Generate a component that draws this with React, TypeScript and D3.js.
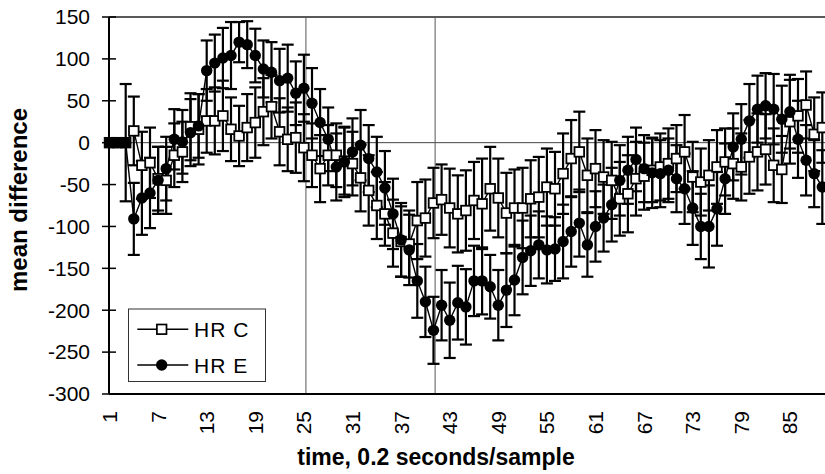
import React from "react";
import * as d3 from "d3";

// category numbers 1..89 (visible part of the chart)
const categories: number[] = d3.range(1, 90);

const hrC: number[] = [
  0, 0, 0, 14, -27, -24, -43, -45, -15, -11,
  19, 16, 26, 26, 32, 16, 8, 18, 24, 37,
  43, 13, 4, 6, -6, -15, -31, -15, -15, -22,
  -25, -42, -57, -75, -85, -108, -118, -121, -93, -90,
  -72, -68, -78, -85, -81, -69, -73, -55, -66, -84,
  -78, -78, -67, -65, -53, -55, -37, -19, -11, -39,
  -31, -41, -45, -67, -61, -43, -40, -33, -29, -25,
  -19, -11, -41, -47, -39, -29, -23, -25, -29, -17,
  -11, -8, -27, -32, 25, 32, 45, 10, 18,
];

const hrE: number[] = [
  0, 0, 0, -91, -66, -60, -45, -31, 4, 1,
  12, 20, 86, 95, 101, 104, 120, 117, 104, 88,
  84, 74, 77, 59, 65, 47, 24, 4, -29, -23,
  -11, -3, -19, -35, -54, -85, -116, -128, -165, -190,
  -224, -194, -212, -191, -196, -165, -165, -172, -194, -176,
  -164, -137, -129, -122, -128, -127, -118, -106, -96, -122,
  -100, -90, -74, -45, -33, -20, -31, -36, -37, -33,
  -43, -55, -78, -100, -100, -79, -43, -5, 4, 26,
  40, 44, 40, 28, 37, 4, -21, -37, -53,
];

const errC: number[] = [
  0, 0, 0, 41, 40, 42, 38, 40, 38, 36,
  40, 42, 38, 40, 42, 38, 36, 40, 42, 40,
  38, 40, 38, 42, 40, 38, 40, 36, 38, 40,
  38, 40, 42, 40, 38, 40, 42, 40, 46, 46,
  42, 42, 47, 46, 48, 46, 54, 50, 47, 48,
  46, 48, 46, 48, 46, 44, 48, 46, 48, 44,
  46, 44, 46, 44, 46, 44, 40, 38, 40, 42,
  40, 44, 42, 40, 42, 44, 40, 42, 40, 44,
  46, 42, 44, 40, 50, 44, 40, 44, 42,
];

const errE: number[] = [
  0, 0, 70, 43, 44, 42, 40, 38, 36, 38,
  40, 38, 36, 34, 36, 40, 24, 28, 32, 34,
  36, 38, 40, 38, 40, 42, 40, 38, 40, 42,
  40, 42, 40, 42, 44, 42, 44, 42, 44, 42,
  40, 42, 45, 44, 45, 42, 40, 38, 42, 44,
  42, 44, 42, 40, 40, 38, 44, 42, 40, 38,
  42, 40, 44, 42, 40, 38, 40, 42, 40, 38,
  40, 42, 44, 39, 49, 44, 42, 40, 42, 44,
  40, 39, 42, 40, 44, 46, 42, 40, 44,
];

const xTicks: number[] = [1, 7, 13, 19, 25, 31, 37, 43, 49, 55, 61, 67, 73, 79, 85];
const yTicks: number[] = [-300, -250, -200, -150, -100, -50, 0, 50, 100, 150];
const eventLines: number[] = [25.25, 41.2];
const seriesNames: string[] = ["HR C", "HR E"];

const FONT = "'Liberation Sans', Arial, Helvetica, sans-serif";

export default function App() {
  const W = 825;
  const H = 474;
  const left = 109;
  const top = 17;
  const bottom = 394;
  const right = 825;

  const x = d3.scaleLinear().domain([1, 89]).range([109.5, 109.5 + 88 * 8.1]);
  const y = d3.scaleLinear().domain([-300, 150]).range([bottom, top]);

  const line = d3
    .line<number>()
    .x((_, i) => x(categories[i]))
    .y((d) => y(d));

  const cap = 6;
  const sq = 9.6;

  const errBars = (vals: number[], errs: number[], key: string) =>
    vals.map((v, i) => {
      const e = errs[i];
      if (!e) return null;
      const cx = x(categories[i]);
      const y1 = y(v + e);
      const y2 = y(v - e);
      return (
        <g key={key + i} stroke="#000" strokeWidth={2.2}>
          <line x1={cx} x2={cx} y1={y1} y2={y2} />
          <line x1={cx - cap} x2={cx + cap} y1={y1} y2={y1} />
          <line x1={cx - cap} x2={cx + cap} y1={y2} y2={y2} />
        </g>
      );
    });

  return (
    <svg
      width={W}
      height={H}
      style={{ position: "absolute", left: 0, top: 0, background: "#fff" }}
      fontFamily={FONT}
    >
      <rect x={0} y={0} width={W} height={H} fill="#fff" />
      <defs>
        <clipPath id="plotClip">
          <rect x={left - 8} y={0} width={right - left + 8} height={bottom + 6} />
        </clipPath>
      </defs>

      {/* plot frame top */}
      <line x1={left} x2={right} y1={top} y2={top} stroke="#222" strokeWidth={1.5} />
      {/* zero line */}
      <line x1={left} x2={right} y1={y(0)} y2={y(0)} stroke="#444" strokeWidth={1} />
      {/* event lines */}
      {eventLines.map((c, i) => (
        <line key={"ev" + i} x1={x(c)} x2={x(c)} y1={top} y2={bottom} stroke="#555" strokeWidth={1} />
      ))}

      <g clipPath="url(#plotClip)">
        {errBars(hrC, errC, "ec")}
        {errBars(hrE, errE, "ee")}
        <path d={line(hrC) || ""} fill="none" stroke="#000" strokeWidth={1.4} />
        <path d={line(hrE) || ""} fill="none" stroke="#000" strokeWidth={1.4} />
        {hrC.map((v, i) => (
          <rect
            key={"mc" + i}
            x={x(categories[i]) - sq / 2}
            y={y(v) - sq / 2}
            width={sq}
            height={sq}
            fill="#fff"
            stroke="#000"
            strokeWidth={1.8}
          />
        ))}
        {hrE.map((v, i) => (
          <circle key={"me" + i} cx={x(categories[i])} cy={y(v)} r={5.7} fill="#000" />
        ))}
      </g>

      {/* axes */}
      <line x1={left} x2={left} y1={top} y2={bottom} stroke="#000" strokeWidth={2} />
      <line x1={left} x2={right} y1={bottom} y2={bottom} stroke="#000" strokeWidth={2} />
      {yTicks.map((t) => (
        <g key={"yt" + t}>
          <line x1={left - 7} x2={left + 7} y1={y(t)} y2={y(t)} stroke="#000" strokeWidth={1.5} />
          <text x={90} y={y(t)} dy="0.35em" textAnchor="end" fontSize={21} fill="#000">
            {t}
          </text>
        </g>
      ))}
      {xTicks.map((t) => (
        <text
          key={"xt" + t}
          transform={`translate(${x(t)},${411}) rotate(-90)`}
          dy="0.36em"
          textAnchor="end"
          fontSize={21}
          fill="#000"
        >
          {t}
        </text>
      ))}

      {/* axis titles */}
      <text x={436} y={465} textAnchor="middle" fontSize={23} fontWeight="bold" fill="#000">
        time, 0.2 seconds/sample
      </text>
      <text
        transform={`translate(27,200) rotate(-90)`}
        textAnchor="middle"
        fontSize={24}
        fontWeight="bold"
        fill="#000"
      >
        mean difference
      </text>

      {/* legend */}
      <g>
        <rect x={128.5} y={309} width={137} height={72.5} fill="#fff" stroke="#333" strokeWidth={1} />
        {seriesNames.map((name, i) => {
          const ly = 329.3 + i * 35.7;
          return (
            <g key={"lg" + i}>
              <line x1={137.3} x2={188.3} y1={ly} y2={ly} stroke="#000" strokeWidth={1.5} />
              {i === 0 ? (
                <rect x={161.7 - sq / 2} y={ly - sq / 2} width={sq} height={sq} fill="#fff" stroke="#000" strokeWidth={1.7} />
              ) : (
                <circle cx={161.7} cy={ly} r={5.7} fill="#000" />
              )}
              <text x={194} y={ly} dy="0.36em" fontSize={21} letterSpacing={1} fill="#000">
                {name}
              </text>
            </g>
          );
        })}
      </g>
    </svg>
  );
}
